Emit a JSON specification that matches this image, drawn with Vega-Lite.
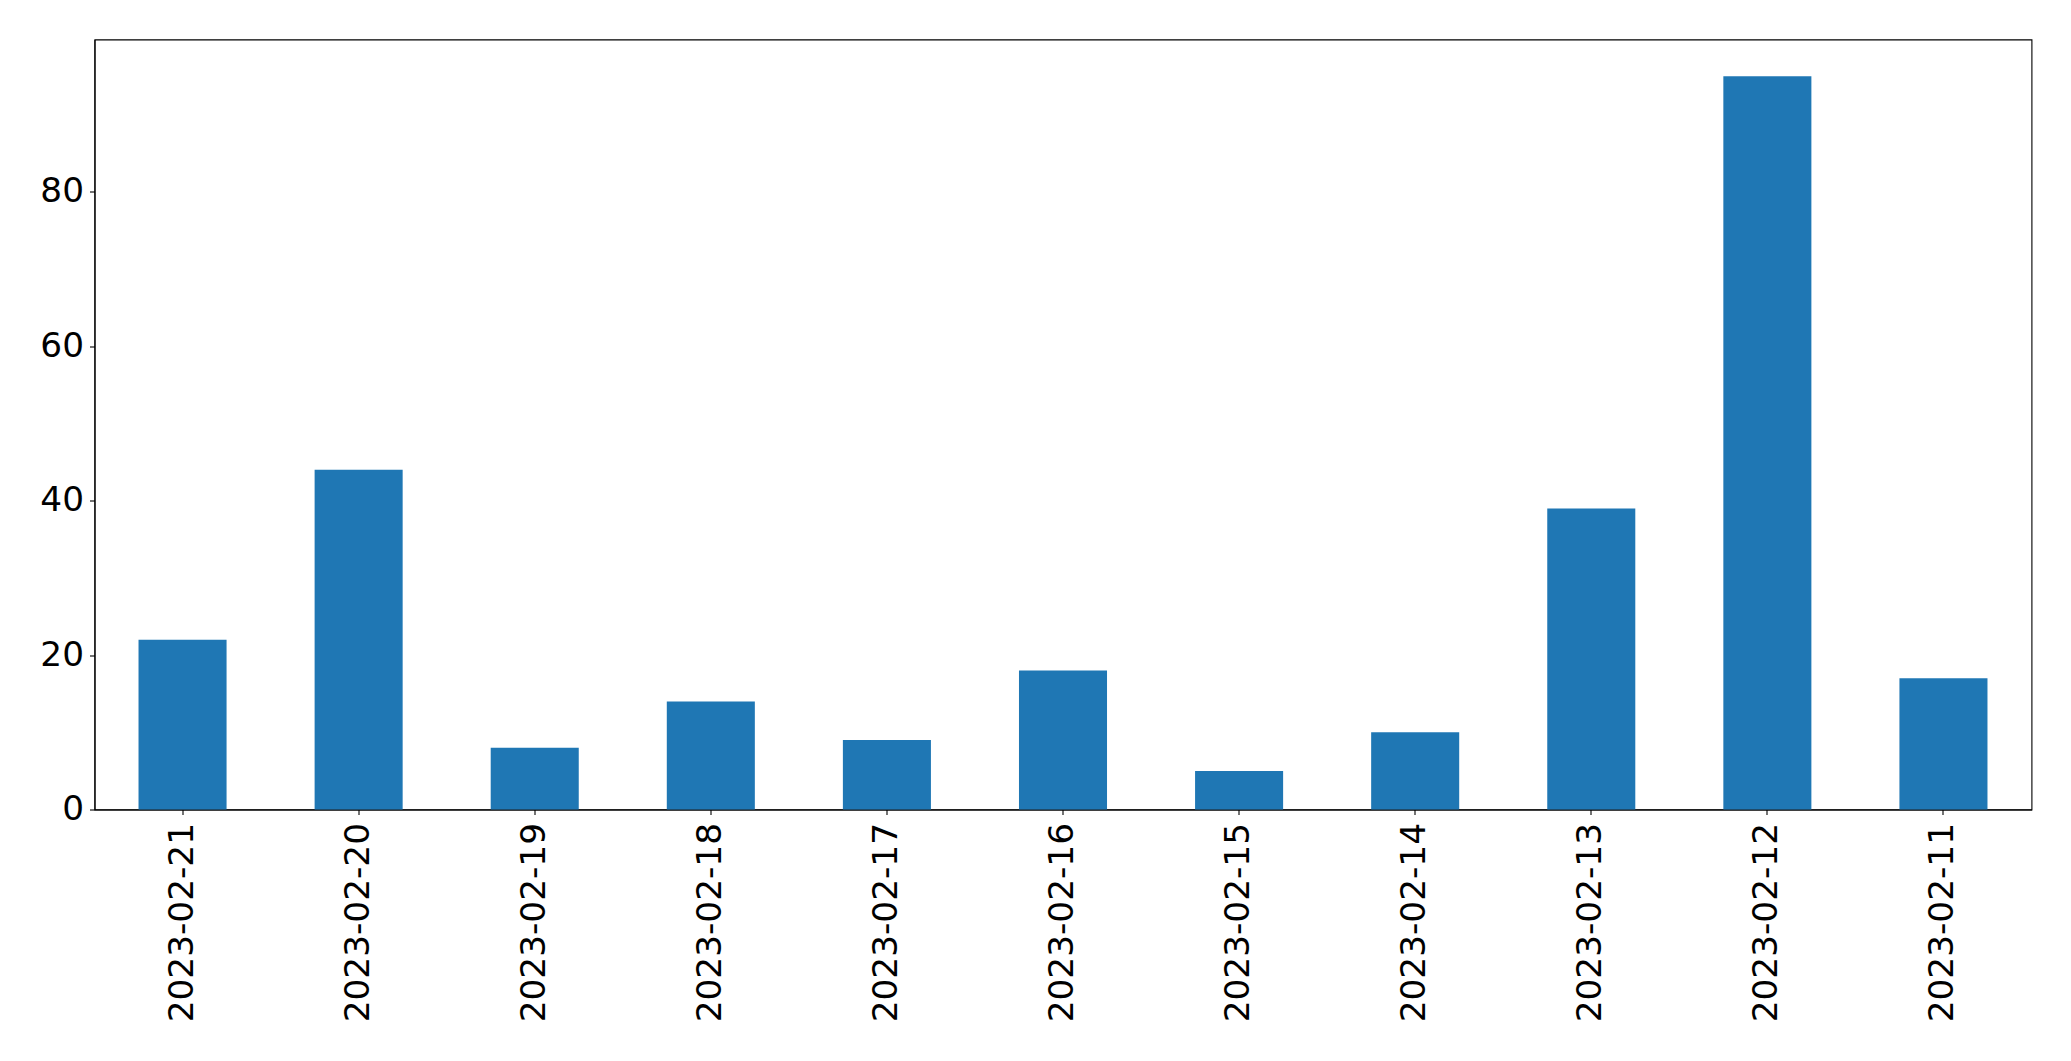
{
  "$schema": "https://vega.github.io/schema/vega-lite/v6.json",
  "autosize": {"type": "none"},
  "width": 1937,
  "height": 770,
  "padding": {"left": 94.5, "top": 39.5, "right": 39.5, "bottom": 252},
  "background": "white",
  "config": {
    "view": {"stroke": "black", "strokeWidth": 1.1},
    "axis": {
      "labelFont": "DejaVu Sans",
      "labelFontSize": 34.3,
      "labelColor": "black",
      "labelLimit": 500,
      "domainColor": "black",
      "domainWidth": 1.1,
      "tickColor": "black",
      "tickWidth": 1.1,
      "tickSize": 5,
      "grid": false,
      "title": null
    }
  },
  "data": {
    "values": [
      {"date": "2023-02-21", "count": 22},
      {"date": "2023-02-20", "count": 44},
      {"date": "2023-02-19", "count": 8},
      {"date": "2023-02-18", "count": 14},
      {"date": "2023-02-17", "count": 9},
      {"date": "2023-02-16", "count": 18},
      {"date": "2023-02-15", "count": 5},
      {"date": "2023-02-14", "count": 10},
      {"date": "2023-02-13", "count": 39},
      {"date": "2023-02-12", "count": 95},
      {"date": "2023-02-11", "count": 17}
    ]
  },
  "mark": {"type": "bar", "color": "#1f77b4"},
  "encoding": {
    "x": {
      "field": "date",
      "type": "nominal",
      "sort": null,
      "scale": {"paddingInner": 0.5, "paddingOuter": 0.25},
      "axis": {"labelAngle": 270, "labelPadding": 8, "labelAlign": "right", "labelBaseline": "middle"}
    },
    "y": {
      "field": "count",
      "type": "quantitative",
      "scale": {"domain": [0, 99.75], "nice": false, "zero": true},
      "axis": {"values": [0, 20, 40, 60, 80], "labelPadding": 6}
    }
  }
}
